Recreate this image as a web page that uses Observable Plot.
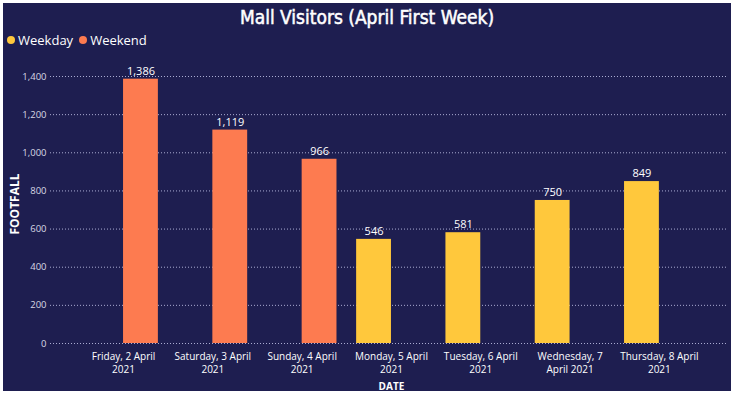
<!DOCTYPE html>
<html>
<head>
<meta charset="utf-8">
<script src="https://cdn.jsdelivr.net/npm/d3@7"></script>
<script src="https://cdn.jsdelivr.net/npm/@observablehq/plot@0.6"></script>
<style>
  html, body { margin: 0; padding: 0; background: #ffffff; }
  #card { position: absolute; left: 3px; top: 3px; width: 728px; height: 388px; background: #1e1e50; }
  #title { position: absolute; left: 0; top: 2px; width: 728px; text-align: center; color: #ffffff;
           font-family: "DejaVu Sans Condensed", "DejaVu Sans", sans-serif; font-stretch: condensed; font-size: 19px; line-height: 24px;
           -webkit-text-stroke: 0.5px #ffffff; }
  #legend { position: absolute; left: 4px; top: 28px; color: #ffffff; font-family: "Open Sans", "Noto Sans", sans-serif; font-size: 13px; display: flex; gap: 6px; align-items: center; }
  #legend span.item { display: inline-flex; align-items: center; gap: 3px; }
  #legend span.dot { width: 8px; height: 8px; border-radius: 50%; display: inline-block; }
  .layer { position: absolute; left: 0; top: 47px; }
  .layer svg { overflow: visible; }
  g[aria-label="fx-axis label"] text { font-weight: bold; font-size: 10px; }
</style>
</head>
<body>
<div id="card">
  <div id="title"></div>
  <div id="legend"></div>
  <div id="grid" class="layer"></div>
  <div id="chart" class="layer"></div>
</div>
<script>
const titleText = "Mall Visitors (April First Week)";
const yTitle = "FOOTFALL";
const xTitle = "DATE";
const dates = [
  "Friday, 2 April 2021", "Saturday, 3 April 2021", "Sunday, 4 April 2021",
  "Monday, 5 April 2021", "Tuesday, 6 April 2021", "Wednesday, 7 April 2021",
  "Thursday, 8 April 2021"
];
const dateLabels = [
  "Friday, 2 April\n2021", "Saturday, 3 April\n2021", "Sunday, 4 April\n2021",
  "Monday, 5 April\n2021", "Tuesday, 6 April\n2021", "Wednesday, 7\nApril 2021",
  "Thursday, 8 April\n2021"
];
const dayTypes = ["Weekend", "Weekend", "Weekend", "Weekday", "Weekday", "Weekday", "Weekday"];
const footfall = [1386, 1119, 966, 546, 581, 750, 849];
const seriesNames = ["Weekday", "Weekend"];
const seriesColors = ["#ffc83c", "#fd7b50"];
const yTicks = [0, 200, 400, 600, 800, 1000, 1200, 1400];

const data = dates.map((d, i) => ({date: d, type: dayTypes[i], value: footfall[i]}));
const labelOf = new Map(dates.map((d, i) => [d, dateLabels[i]]));

document.getElementById("title").textContent = titleText;
const legend = document.getElementById("legend");
seriesNames.forEach((s, i) => {
  const item = document.createElement("span");
  item.className = "item";
  const dot = document.createElement("span");
  dot.className = "dot";
  dot.style.background = seriesColors[i];
  item.appendChild(dot);
  item.appendChild(document.createTextNode(s));
  legend.appendChild(item);
});

const common = {
  width: 728,
  height: 341,
  marginTop: 26,
  marginBottom: 48,
  marginLeft: 47,
  marginRight: 3,
  style: { background: "transparent", color: "#e6e6ee", fontFamily: "'Open Sans', 'Noto Sans', sans-serif", fontSize: "10px" }
};

const gridPlot = Plot.plot({
  ...common,
  y: { domain: [0, 1400] },
  marks: [
    Plot.ruleY(yTicks, { stroke: "#aaacd2", strokeDasharray: "1,2", strokeWidth: 1 }),
    Plot.axisY({ ticks: yTicks, tickFormat: d3.format(","), tickSize: 0, tickPadding: 4, fill: "#d8d8e4", fontSize: 9.5, label: null }),
    Plot.text([yTitle], { frameAnchor: "left", textAnchor: "middle", text: d => d, rotate: -90, dx: -35, dy: -6, fill: "#ffffff", fontSize: 12, fontWeight: "bold" })
  ]
});
document.getElementById("grid").appendChild(gridPlot);

const plot = Plot.plot({
  ...common,
  fx: { domain: dates, paddingInner: 0.22, paddingOuter: 0.406, align: 0.527, round: false, label: null },
  x: { domain: seriesNames, padding: 0, round: false, axis: null },
  y: { domain: [0, 1400], axis: null },
  color: { domain: seriesNames, range: seriesColors },
  marks: [
    Plot.barY(data, { fx: "date", x: "type", y: "value", fill: "type", inset: 0 }),
    Plot.text(data, { fx: "date", x: "type", y: "value", text: d => d3.format(",")(d.value), dy: -8, fill: "#ffffff", fontSize: 11 }),
    Plot.axisFx({ anchor: "bottom", tickFormat: d => labelOf.get(d), tickSize: 0, tickPadding: 7, fontSize: 10, lineHeight: 1.32, fill: "#ffffff",
                  label: xTitle, labelAnchor: "center", labelOffset: 46 })
  ]
});
document.getElementById("chart").appendChild(plot);
</script>
</body>
</html>
